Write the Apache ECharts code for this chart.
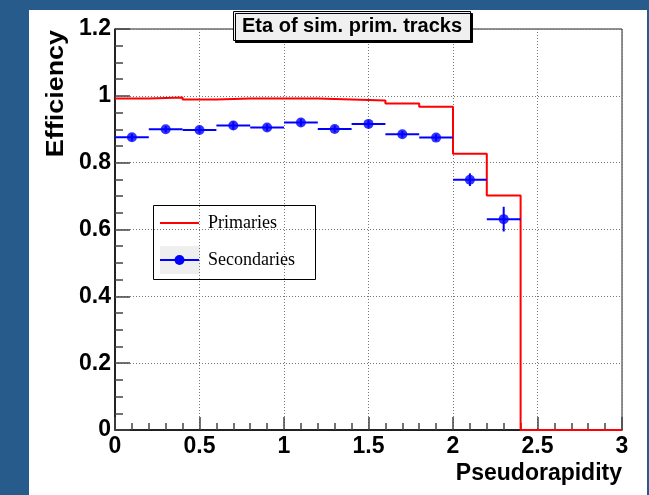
<!DOCTYPE html>
<html>
<head>
<meta charset="utf-8">
<script src="https://cdn.jsdelivr.net/npm/echarts@6/dist/echarts.min.js"></script>
<style>
  html, body { margin: 0; padding: 0; }
  body { width: 649px; height: 495px; background: #265b8c; position: relative; overflow: hidden; }
  #panel { position: absolute; left: 29px; top: 10px; width: 618px; height: 485px; background: #ffffff; }
  #chart { position: absolute; left: 0; top: 0; width: 649px; height: 495px; }
</style>
</head>
<body>
<div id="panel"></div>
<div id="chart"></div>
<script>
// Eta bins of width 0.2 covering 0 .. 3
const etaBinLow = [0.0, 0.2, 0.4, 0.6, 0.8, 1.0, 1.2, 1.4, 1.6, 1.8, 2.0, 2.2, 2.4, 2.6, 2.8];
const etaUpperEdge = 3.0;
const primaries = [0.992, 0.995, 0.989, 0.992, 0.992, 0.992, 0.989, 0.986, 0.977, 0.967, 0.827, 0.702, 0, 0, 0];

// Secondaries: bin centres, efficiency, vertical error, bin half width
const secondaryEta = [0.1, 0.3, 0.5, 0.7, 0.9, 1.1, 1.3, 1.5, 1.7, 1.9, 2.1, 2.3];
const secondaries = [0.876, 0.900, 0.898, 0.911, 0.905, 0.920, 0.901, 0.916, 0.885, 0.875, 0.749, 0.631];
const secondaryErr = [0.010, 0.010, 0.010, 0.012, 0.010, 0.011, 0.010, 0.011, 0.010, 0.010, 0.019, 0.037];
const binHalfWidth = 0.1;

const xTicks = [0, 0.5, 1, 1.5, 2, 2.5, 3];
const yTicks = [0, 0.2, 0.4, 0.6, 0.8, 1, 1.2];

const legendNames = ['Primaries', 'Secondaries'];

// Histogram outline: each bin's low edge holds its value, closed at the upper edge
const primaryStep = etaBinLow.map((x, i) => [x, primaries[i]]);
primaryStep.push([etaUpperEdge, primaries[primaries.length - 1]]);

const secondaryPoints = secondaryEta.map((x, i) => [x, secondaries[i], secondaryErr[i], binHalfWidth]);

const sansBold = { fontFamily: 'Liberation Sans', fontWeight: 'bold', color: '#000' };

const chart = echarts.init(document.getElementById('chart'), null, { renderer: 'canvas' });

// Legend panel, drawn as a small framed box inside the plot
const lg = { x: 153, y: 205, w: 162, h: 74 };
const legendGraphic = {
  type: 'group',
  z: 10,
  children: [
    { type: 'rect', shape: { x: lg.x + 0.5, y: lg.y + 0.5, width: lg.w, height: lg.h }, style: { fill: '#ffffff', stroke: '#000', lineWidth: 1 } },
    { type: 'line', shape: { x1: 160, y1: 223, x2: 199, y2: 223 }, style: { stroke: '#ff0000', lineWidth: 2 } },
    { type: 'text', x: 208, y: 223, style: { text: legendNames[0], font: '18px "Liberation Serif"', fill: '#000', verticalAlign: 'middle' } },
    { type: 'rect', shape: { x: 160, y: 246, width: 40, height: 28 }, style: { fill: '#efefef' } },
    { type: 'line', shape: { x1: 160, y1: 260, x2: 199, y2: 260 }, style: { stroke: '#0000ff', lineWidth: 2 } },
    { type: 'circle', shape: { cx: 179.5, cy: 260, r: 5 }, style: { fill: '#0000ff' } },
    { type: 'text', x: 208, y: 260, style: { text: legendNames[1], font: '18px "Liberation Serif"', fill: '#000', verticalAlign: 'middle' } }
  ]
};

chart.setOption({
  backgroundColor: 'transparent',
  animation: false,
  title: {
    text: 'Eta of sim. prim. tracks',
    left: 233,
    top: 11,
    padding: [4, 9, 4, 9],
    backgroundColor: '#f0f0f0',
    borderColor: '#000',
    borderWidth: 1,
    shadowColor: '#000',
    shadowBlur: 0,
    shadowOffsetX: 2,
    shadowOffsetY: 2,
    textStyle: { fontFamily: 'Liberation Sans', fontWeight: 'bold', fontSize: 20, lineHeight: 22, color: '#000' }
  },
  grid: {
    left: 115,
    top: 29,
    width: 507,
    height: 401,
    show: true,
    borderColor: '#222',
    borderWidth: 1,
    backgroundColor: 'transparent'
  },
  xAxis: {
    type: 'value',
    min: xTicks[0],
    max: xTicks[xTicks.length - 1],
    interval: 0.5,
    axisLine: { show: true, lineStyle: { color: '#000', width: 1.5 } },
    axisTick: { show: true, inside: true, length: 13, lineStyle: { color: '#444', width: 1.5 } },
    minorTick: { show: true, splitNumber: 5, length: 7, lineStyle: { color: '#444', width: 1.5 } },
    splitLine: { show: true, lineStyle: { color: '#777', type: [1, 2], width: 1 } },
    axisLabel: Object.assign({ fontSize: 23, margin: 5, formatter: v => String(v) }, sansBold)
  },
  yAxis: {
    type: 'value',
    min: yTicks[0],
    max: yTicks[yTicks.length - 1],
    interval: 0.2,
    axisLine: { show: true, lineStyle: { color: '#000', width: 1.5 } },
    axisTick: { show: true, inside: true, length: 15, lineStyle: { color: '#444', width: 1.5 } },
    minorTick: { show: true, splitNumber: 4, length: 8, lineStyle: { color: '#444', width: 1.5 } },
    splitLine: { show: true, lineStyle: { color: '#777', type: [1, 2], width: 1 } },
    axisLabel: Object.assign({ fontSize: 23, margin: 4, formatter: v => String(Math.round(v * 10) / 10) }, sansBold)
  },
  graphic: [
    legendGraphic,
    {
      type: 'text', z: 5,
      x: 622, y: 474,
      style: { text: 'Pseudorapidity', font: 'bold 23px "Liberation Sans"', fill: '#000', align: 'right', verticalAlign: 'middle' }
    },
    {
      type: 'text', z: 5,
      x: 57, y: 30,
      rotation: Math.PI / 2,
      scaleX: 1.17,
      style: { text: 'Efficiency', font: 'bold 23px "Liberation Sans"', fill: '#000', align: 'right', verticalAlign: 'middle' }
    }
  ],
  series: [
    {
      name: 'Primaries',
      type: 'line',
      step: 'end',
      data: primaryStep,
      symbol: 'none',
      lineStyle: { color: '#ff0000', width: 2 },
      itemStyle: { color: '#ff0000' },
      z: 3
    },
    {
      name: 'Secondaries',
      type: 'custom',
      data: secondaryPoints,
      encode: { x: 0, y: 1 },
      itemStyle: { color: '#0000ff' },
      z: 4,
      renderItem: function (params, api) {
        const x = api.value(0), y = api.value(1), e = api.value(2), hw = api.value(3);
        const l = api.coord([x - hw, y]);
        const r = api.coord([x + hw, y]);
        const t = api.coord([x, y + e]);
        const b = api.coord([x, y - e]);
        const style = { stroke: '#0000ff', lineWidth: 2 };
        return {
          type: 'group',
          children: [
            { type: 'line', shape: { x1: l[0], y1: l[1], x2: r[0], y2: r[1] }, style: style },
            { type: 'line', shape: { x1: t[0], y1: t[1], x2: b[0], y2: b[1] }, style: style }
          ]
        };
      }
    },
    {
      name: 'Secondaries',
      type: 'scatter',
      data: secondaryPoints.map(p => [p[0], p[1]]),
      symbol: 'circle',
      symbolSize: 10,
      itemStyle: { color: '#0000ff' },
      z: 5
    }
  ]
});
</script>
</body>
</html>
